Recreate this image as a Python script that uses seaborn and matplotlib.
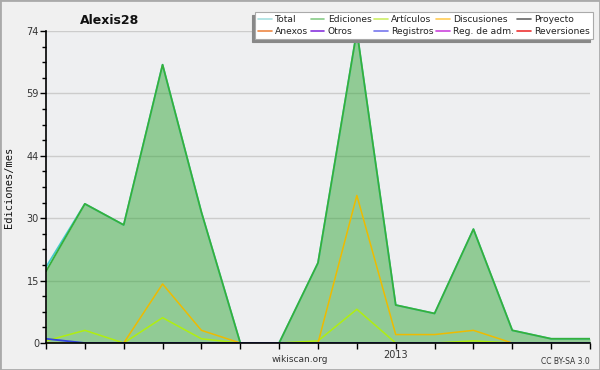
import matplotlib.pyplot as plt
from matplotlib.lines import Line2D
import numpy as np
import seaborn as sns

sns.set_theme(style="ticks")
plt.rcParams['font.family'] = ['DejaVu Sans']

# monthly edits, Apr 2012 - Jun 2013
months = ["2012-04", "2012-05", "2012-06", "2012-07", "2012-08", "2012-09", "2012-10",
          "2012-11", "2012-12", "2013-01", "2013-02", "2013-03", "2013-04", "2013-05", "2013-06"]
total = [18, 33, 28, 66, 31, 0, 0, 19, 74, 9, 7, 27, 3, 1, 1]
ediciones = [17, 33, 28, 66, 31, 0, 0, 19, 74, 9, 7, 27, 3, 1, 1]
articulos = [0.5, 3, 0, 6, 1, 0, 0, 0.5, 8, 0, 0, 0.5, 0, 0, 0]
discusiones = [0, 0, 0, 14, 3, 0, 0, 0, 35, 2, 2, 3, 0, 0, 0]
registros = [1, 0, 0, 0, 0, 0, 0, 0, 0, 0, 0, 0, 0, 0, 0]

legend_labels = ["Total", "Anexos", "Ediciones", "Otros", "Artículos", "Registros",
                 "Discusiones", "Reg. de adm.", "Proyecto", "Reversiones"]
legend_colors = ["#a8e0e0", "#ee8844", "#88cc88", "#8833dd", "#ccee66", "#7777ee",
                 "#ffcc55", "#cc44dd", "#666666", "#ee3333"]

x = np.arange(len(months))

fig = plt.figure(figsize=(6, 3.7), dpi=100, facecolor="#f0f0f0")
ax = fig.add_axes([46 / 600, 27 / 370, 544 / 600, 312 / 370])
ax.set_facecolor("#eeeff1")

ymax = 74
ax.set_ylim(0, ymax)
ax.set_xlim(0, len(months) - 1)

major = np.linspace(0, ymax, 6)
ax.set_yticks(major)
ax.set_yticklabels([str(int(round(v))) for v in major])
ax.set_yticks(np.linspace(0, ymax, 21), minor=True)
ax.yaxis.grid(True, which="major", color="#cccccc", lw=1)
ax.set_axisbelow(True)

ax.fill_between(x, ediciones, color="#36a83b", alpha=0.5, lw=0, zorder=2)
sns.lineplot(x=x, y=total, color="#44cccc", lw=1.3, ax=ax, zorder=3)
sns.lineplot(x=x, y=ediciones, color="#36b03b", lw=1.3, ax=ax, zorder=4)
sns.lineplot(x=x, y=articulos, color="#b0ee10", lw=1.1, ax=ax, zorder=5)
sns.lineplot(x=x, y=discusiones, color="#eebb00", lw=1.1, ax=ax, zorder=5)
sns.lineplot(x=x, y=registros, color="#3344dd", lw=1.3, ax=ax, zorder=6)

ax.set_xticks(x)
ax.set_xticklabels(["2013" if m == "2013-01" else "" for m in months])
ax.tick_params(axis="both", which="major", direction="out", length=4, width=1,
               color="black", labelsize=7, labelcolor="#333333", pad=1)
ax.tick_params(axis="y", which="minor", direction="out", length=3, width=1, color="black")
for s in ["top", "right"]:
    ax.spines[s].set_visible(False)
for s in ["left", "bottom"]:
    ax.spines[s].set_color("black")
    ax.spines[s].set_linewidth(1.2)
    ax.spines[s].set_zorder(10)
ax.set_xlabel("")
ax.set_ylabel("Ediciones/mes", fontsize=7.5, color="#111111",
              family=["DejaVu Sans Mono"])
ax.yaxis.set_label_coords(-32 / 544, 0.5)

handles = [Line2D([], [], color=c, lw=1.2) for c in legend_colors]
leg = fig.legend(handles, legend_labels, ncol=5, loc="upper right",
                 bbox_to_anchor=(593 / 600, 1 - 12 / 370), fontsize=6.6,
                 frameon=True, fancybox=False, handlelength=1.5, handletextpad=0.35,
                 columnspacing=0.3, labelspacing=0.3, borderpad=0.35, borderaxespad=0,
                 shadow={"ox": -2, "oy": -2, "color": "#888888", "alpha": 1})
leg.get_frame().set_edgecolor("#aaaaaa")
leg.get_frame().set_facecolor("white")
leg.get_frame().set_linewidth(0.8)
leg.get_frame().set_alpha(1)
for t in leg.get_texts():
    t.set_color("#222222")

fig.text(110 / 600, 1 - 20 / 370, "Alexis28", fontsize=9, fontweight="bold",
         ha="center", va="center", color="#111111")
fig.text(300 / 600, 1 - 360 / 370, "wikiscan.org", fontsize=6.5, ha="center",
         va="center", color="#333333")
fig.text(590 / 600, 1 - 361 / 370, "CC BY-SA 3.0", fontsize=5.5, ha="right",
         va="center", color="#333333")

border = plt.Rectangle((0, 0), 1, 1, transform=fig.transFigure, fill=False,
                       edgecolor="#aaaaaa", lw=2)
fig.patches.append(border)

fig.savefig("out.png", dpi=100, facecolor=fig.get_facecolor())
